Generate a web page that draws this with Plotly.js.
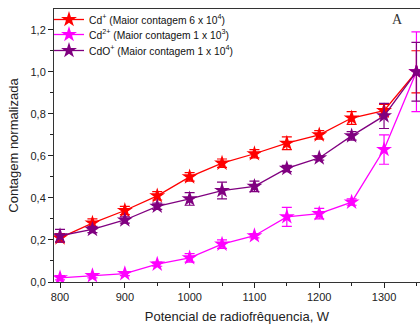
<!DOCTYPE html>
<html><head><meta charset="utf-8">
<script src="https://cdn.plot.ly/plotly-3.0.1.min.js"></script>
<style>html,body{margin:0;padding:0;background:#fff}</style>
</head><body><div id="chart" style="width:420px;height:324px"></div>
<script>
const potencial = [800, 850, 900, 950, 1000, 1050, 1100, 1150, 1200, 1250, 1300, 1350];
const cdPlus = [0.21, 0.28, 0.34, 0.41, 0.50, 0.565, 0.61, 0.66, 0.70, 0.78, 0.815, 1.0];
const cdPlusErr = [0.02, 0.02, 0.02, 0.02, 0.02, 0.02, 0.02, 0.03, 0.02, 0.03, 0.03, 0.10];
const cd2Plus = [0.02, 0.03, 0.04, 0.085, 0.115, 0.18, 0.22, 0.31, 0.325, 0.38, 0.63, 1.0];
const cd2PlusErr = [0.01, 0.01, 0.01, 0.01, 0.02, 0.02, 0.01, 0.045, 0.025, 0.015, 0.07, 0.19];
const cdoPlus = [0.22, 0.25, 0.295, 0.36, 0.395, 0.435, 0.455, 0.54, 0.59, 0.695, 0.79, 1.0];
const cdoPlusErr = [0.03, 0.015, 0.015, 0.015, 0.03, 0.04, 0.025, 0.015, 0.01, 0.02, 0.06, 0.14];
const seriesNames = ['Cd<sup>+</sup> (Maior contagem 6 x 10<sup>4</sup>)', 'Cd<sup>2+</sup> (Maior contagem 1 x 10<sup>3</sup>)', 'CdO<sup>+</sup> (Maior contagem 1 x 10<sup>4</sup>)'];
const colors = ['#ff0000', '#ff00ff', '#800080'];
const legendIds = ['legend', 'legend2', 'legend3'];

function tr(y, e, i) {
  return {
    x: potencial, y: y, name: seriesNames[i], type: 'scatter', mode: 'lines+markers',
    legend: legendIds[i],
    line: {color: colors[i], width: 1.3},
    marker: {symbol: 'star', size: 12, color: colors[i]},
    error_y: {type: 'data', array: e, visible: true, color: colors[i], thickness: 1.2, width: 5},
    cliponaxis: true
  };
}
const data = [tr(cdPlus, cdPlusErr, 0), tr(cd2Plus, cd2PlusErr, 1), tr(cdoPlus, cdoPlusErr, 2)];
const plotTop = 9, plotH = 273, plotL = 54, plotW = 366;
function leg(cy) {
  return {x: (49 - plotL) / plotW, y: 1 - (cy - plotTop) / plotH, xanchor: 'left', yanchor: 'middle',
    bgcolor: 'rgba(0,0,0,0)', font: {size: 10.3, color: '#111'}, itemwidth: 30};
}
const layout = {
  width: 420, height: 324,
  margin: {l: plotL, r: 0, t: plotTop, b: 42},
  paper_bgcolor: '#fff', plot_bgcolor: '#fff',
  separators: ',.',
  font: {family: 'Liberation Sans, Arial, sans-serif', size: 11, color: '#222'},
  showlegend: true,
  legend: leg(19.5), legend2: leg(34.5), legend3: leg(50.5),
  xaxis: {
    range: [790.7, 1355.5], tickvals: [800, 900, 1000, 1100, 1200, 1300],
    ticks: 'outside', ticklen: 5, tickcolor: '#222', showgrid: false, zeroline: false,
    showline: true, linecolor: '#333', linewidth: 1, mirror: true,
    minor: {dtick: 50, tick0: 800, ticks: 'outside', ticklen: 3, tickcolor: '#222'},
    tickfont: {size: 11},
    title: {text: 'Potencial de radiofrêquencia, W', font: {size: 13}, standoff: 12}
  },
  yaxis: {
    range: [0, 1.2985], tickvals: [0, 0.2, 0.4, 0.6, 0.8, 1.0, 1.2], tickformat: '.1f',
    ticks: 'outside', ticklen: 5, tickcolor: '#222', showgrid: false, zeroline: false,
    showline: true, linecolor: '#333', linewidth: 1,
    minor: {dtick: 0.1, tick0: 0, ticks: 'outside', ticklen: 3, tickcolor: '#222'},
    tickfont: {size: 11},
    title: {text: 'Contagem normalizada', font: {size: 13}, standoff: 8}
  },
  annotations: [{text: 'A', xref: 'paper', yref: 'paper', x: (397 - plotL) / plotW, y: 1 - (20 - plotTop) / plotH,
    xanchor: 'center', yanchor: 'middle', showarrow: false,
    font: {family: 'Liberation Serif, Times New Roman, serif', size: 14, color: '#333'}}]
};
Plotly.newPlot('chart', data, layout, {displayModeBar: false, staticPlot: true});
</script></body></html>
